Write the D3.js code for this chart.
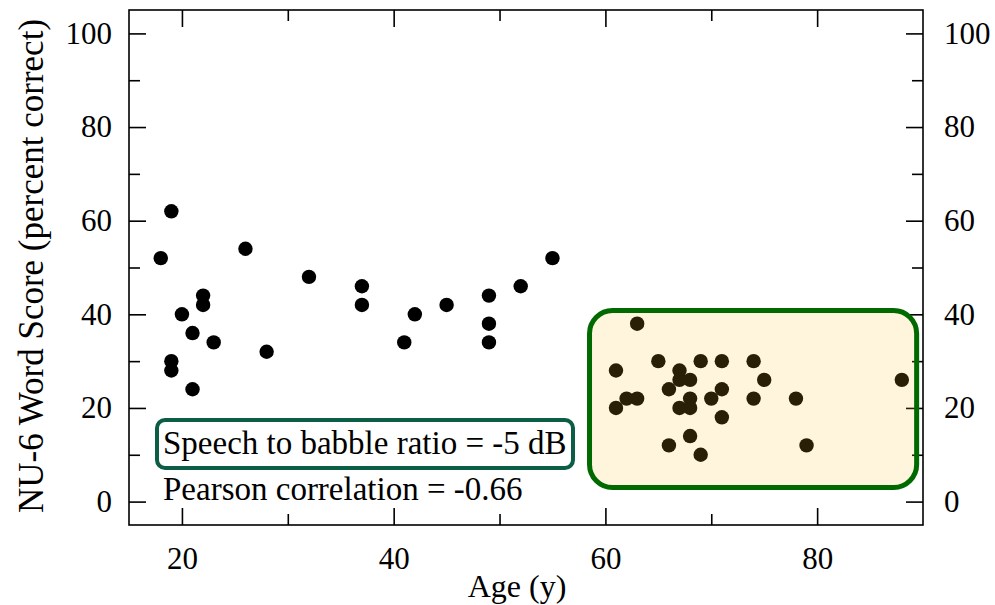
<!DOCTYPE html>
<html>
<head>
<meta charset="utf-8">
<script src="https://cdn.jsdelivr.net/npm/d3@7"></script>
<style>
  html, body { margin: 0; padding: 0; background: #fff; }
  svg { display: block; }
  text { font-family: "Liberation Serif", "Times New Roman", serif; fill: #000; }
</style>
</head>
<body>
<svg id="chart" width="995" height="605"></svg>
<script>
// Age (years) of each listener
const ages = [
  18, 19, 19, 19, 20, 21, 21, 22, 22, 23, 26, 28, 32, 37, 37, 41, 42, 45, 49, 49, 49, 52, 55,
  63, 61, 61, 62, 63, 65, 66, 66, 67, 67, 67, 68, 68, 68, 68, 69, 69, 70, 71, 71, 71, 74, 74, 75, 78, 79, 88
];
// NU-6 word score (percent correct) for each listener
const scores = [
  52, 62, 30, 28, 40, 36, 24, 44, 42, 34, 54, 32, 48, 46, 42, 34, 40, 42, 44, 38, 34, 46, 52,
  38, 28, 20, 22, 22, 30, 24, 12, 28, 26, 20, 26, 22, 20, 14, 30, 10, 22, 30, 24, 18, 30, 22, 26, 22, 12, 26
];
const xMajorTicks = [20, 40, 60, 80];
const xMinorTicks = [30, 50, 70];
const yMajorTicks = [0, 20, 40, 60, 80, 100];
const yMinorTicks = [10, 30, 50, 70, 90];
const olderGroup = { ageFrom: 58.5, ageTo: 89.4, scoreFrom: 3.0, scoreTo: 40.8 };
const conditionLabel = "Speech to babble ratio = -5 dB";
const correlationLabel = "Pearson correlation = -0.66";

const svg = d3.select("#chart");
const plotLeft = 129, plotRight = 923, plotTop = 10, plotBottom = 525;

const x = d3.scaleLinear().domain([15, 90]).range([plotLeft, plotRight]);
const y = d3.scaleLinear().domain([-5, 105]).range([plotBottom, plotTop]);

const major = 17, minor = 11;

function styleAxis(g, size) {
  g.select(".domain").remove();
  g.selectAll(".tick line").attr("stroke", "#000").attr("stroke-width", 1.6);
  g.selectAll(".tick text").attr("font-size", size).attr("font-family", "Liberation Serif, serif");
}

// left axis
svg.append("g").attr("transform", `translate(${plotLeft},0)`)
  .call(d3.axisLeft(y).tickValues(yMajorTicks).tickSizeInner(-major).tickSizeOuter(0).tickPadding(17))
  .call(g => styleAxis(g, 31));
svg.append("g").attr("transform", `translate(${plotLeft},0)`)
  .call(d3.axisLeft(y).tickValues(yMinorTicks).tickSizeInner(-minor).tickSizeOuter(0).tickFormat(""))
  .call(g => styleAxis(g, 31));
// right axis
svg.append("g").attr("transform", `translate(${plotRight},0)`)
  .call(d3.axisRight(y).tickValues(yMajorTicks).tickSizeInner(-major).tickSizeOuter(0).tickPadding(21))
  .call(g => styleAxis(g, 31));
svg.append("g").attr("transform", `translate(${plotRight},0)`)
  .call(d3.axisRight(y).tickValues(yMinorTicks).tickSizeInner(-minor).tickSizeOuter(0).tickFormat(""))
  .call(g => styleAxis(g, 31));
// bottom axis
svg.append("g").attr("transform", `translate(0,${plotBottom})`)
  .call(d3.axisBottom(x).tickValues(xMajorTicks).tickSizeInner(-major).tickSizeOuter(0).tickPadding(22))
  .call(g => styleAxis(g, 31));
svg.append("g").attr("transform", `translate(0,${plotBottom})`)
  .call(d3.axisBottom(x).tickValues(xMinorTicks).tickSizeInner(-minor).tickSizeOuter(0).tickFormat(""))
  .call(g => styleAxis(g, 31));
// top axis
svg.append("g").attr("transform", `translate(0,${plotTop})`)
  .call(d3.axisTop(x).tickValues(xMajorTicks).tickSizeInner(-major).tickSizeOuter(0).tickFormat(""))
  .call(g => styleAxis(g, 31));
svg.append("g").attr("transform", `translate(0,${plotTop})`)
  .call(d3.axisTop(x).tickValues(xMinorTicks).tickSizeInner(-minor).tickSizeOuter(0).tickFormat(""))
  .call(g => styleAxis(g, 31));

// plot frame
svg.append("rect")
  .attr("x", plotLeft).attr("y", plotTop)
  .attr("width", plotRight - plotLeft).attr("height", plotBottom - plotTop)
  .attr("fill", "none").attr("stroke", "#000").attr("stroke-width", 1.6);

// data points
const pts = ages.map((a, i) => ({ age: a, score: scores[i] }));
svg.append("g").selectAll("circle").data(pts).join("circle")
  .attr("cx", d => x(d.age))
  .attr("cy", d => y(d.score))
  .attr("r", 7.2)
  .attr("fill", "#000");

// translucent highlight over the older listeners
const hx0 = x(olderGroup.ageFrom), hx1 = x(olderGroup.ageTo);
const hy0 = y(olderGroup.scoreTo), hy1 = y(olderGroup.scoreFrom);
svg.append("rect")
  .attr("x", hx0).attr("y", hy0)
  .attr("width", hx1 - hx0).attr("height", hy1 - hy0)
  .attr("rx", 23).attr("ry", 23)
  .attr("fill", "rgb(250,190,40)").attr("fill-opacity", 0.16)
  .attr("stroke", "#006a00").attr("stroke-width", 5);

// condition label in a rounded box
svg.append("rect")
  .attr("x", 157).attr("y", 420).attr("width", 416).attr("height", 48)
  .attr("rx", 8).attr("ry", 8)
  .attr("fill", "#fff").attr("stroke", "#0b5e45").attr("stroke-width", 4);
svg.append("text")
  .attr("x", 163).attr("y", 454)
  .attr("font-size", 33)
  .text(conditionLabel);
svg.append("text")
  .attr("x", 163).attr("y", 500)
  .attr("font-size", 33)
  .text(correlationLabel);

// axis titles
svg.append("text")
  .attr("x", 517).attr("y", 597)
  .attr("text-anchor", "middle")
  .attr("font-size", 32)
  .text("Age (y)");
svg.append("text")
  .attr("transform", "translate(43,266) rotate(-90)")
  .attr("text-anchor", "middle")
  .attr("font-size", 35)
  .text("NU-6 Word Score (percent correct)");
</script>
</body>
</html>
